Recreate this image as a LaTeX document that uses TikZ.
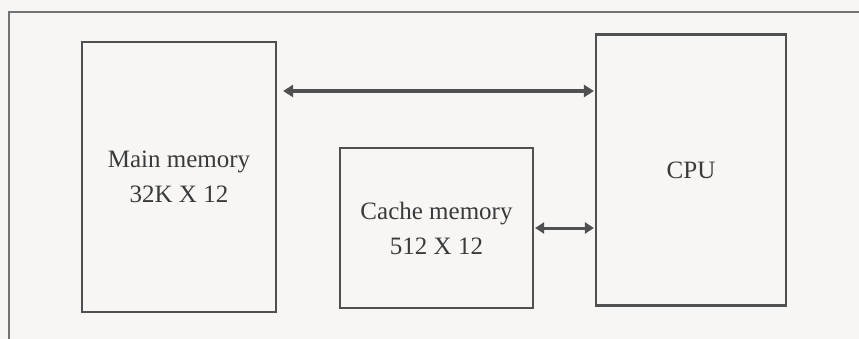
\documentclass[tikz,border=0pt]{standalone}
\usepackage{fontspec}
\setmainfont{Liberation Serif}
\usetikzlibrary{arrows.meta}
\definecolor{bg}{HTML}{F8F6F4}
\definecolor{ink}{HTML}{505050}
\definecolor{txt}{HTML}{3A3A3A}
\tikzset{
  blockbox/.style={draw=ink, line width=2.2pt, fill=none, align=center, text=txt,
    font=\fontsize{25}{35}\selectfont, inner sep=0pt},
  bigarr/.style={draw=ink, line width=3.5pt, {Triangle[length=10pt,width=12pt]}-{Triangle[length=10pt,width=12pt]}},
  smallarr/.style={draw=ink, line width=3pt, {Triangle[length=9pt,width=11pt]}-{Triangle[length=9pt,width=11pt]}},
  framelines/.style={draw=ink!80, line width=1.3pt}
}
\begin{document}
\begin{tikzpicture}[x=1pt,y=-1pt]
\fill[bg] (0,0) rectangle (859,339);
\useasboundingbox (0,0) rectangle (859,339);
\draw[framelines] (9,339) -- (9,12) -- (859,12);
\node[blockbox, minimum width=194pt, minimum height=270pt] (main) at (179,177) {Main memory\\32K X 12};
\node[blockbox, minimum width=193pt, minimum height=160pt] (cache) at (436.5,228) {Cache memory\\512 X 12};
\node[blockbox, minimum width=190pt, minimum height=271pt] (cpu) at (691,170) {CPU};
\coordinate (ytop) at (0,91);
\draw[bigarr, shorten <=6pt, shorten >=1pt] (main.east |- ytop) -- (cpu.west |- ytop);
\draw[smallarr, shorten <=1pt, shorten >=1pt] (cache.east) -- (cache.east -| cpu.west);
\end{tikzpicture}
\end{document}
